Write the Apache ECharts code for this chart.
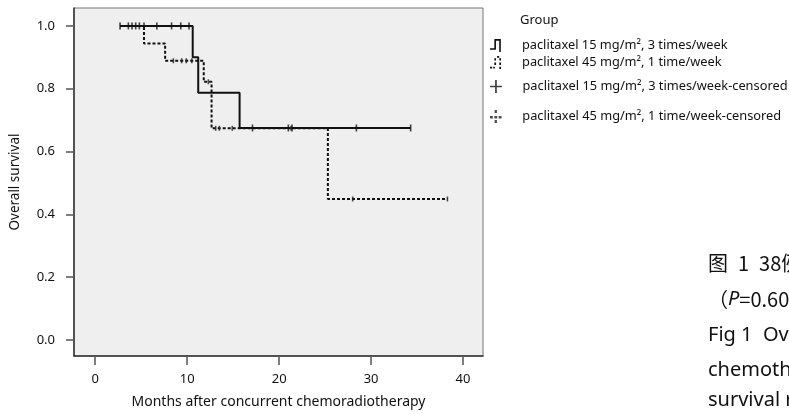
<!DOCTYPE html>
<html lang="zh">
<head>
    <meta charset="UTF-8">
    <title>Overall survival</title>
    <script src="https://cdn.jsdelivr.net/npm/echarts@6.0.0/dist/echarts.min.js"></script>
    <style>
        html, body { margin: 0; padding: 0; background: #fff; }
        #main { width: 789px; height: 414px; }
    </style>
</head>
<body>
<div id="main"></div>
<script>
    // 两组生存曲线：时间(月) 与 生存率
    const solidName = 'paclitaxel 15 mg/m², 3 times/week';
    const dashName = 'paclitaxel 45 mg/m², 1 time/week';
    const solidCensName = 'paclitaxel 15 mg/m², 3 times/week-censored';
    const dashCensName = 'paclitaxel 45 mg/m², 1 time/week-censored';

    const solidT = [2.7, 10.6, 11.2, 15.7, 34.3];
    const solidS = [1.0, 0.9, 0.7875, 0.675, 0.675];
    const dashT = [2.7, 5.3, 7.6, 11.8, 12.65, 25.3, 38.3];
    const dashS = [1.0, 0.944, 0.889, 0.822, 0.674, 0.449, 0.449];

    // 删失点
    const solidCensT = [2.7, 3.6, 4.0, 4.4, 4.8, 5.3, 6.7, 8.3, 9.3, 10.2, 17.1, 21.0, 21.4, 28.4, 34.3];
    const solidCensS = [1, 1, 1, 1, 1, 1, 1, 1, 1, 1, 0.675, 0.675, 0.675, 0.675, 0.675];
    const dashCensT = [8.5, 9.4, 9.9, 10.5, 12.3, 13.1, 13.5, 14.9, 21.3, 28.0, 38.3];
    const dashCensS = [0.889, 0.889, 0.889, 0.889, 0.822, 0.674, 0.674, 0.674, 0.674, 0.449, 0.449];

    const xTicks = [0, 10, 20, 30, 40];
    const yTicks = [0, 0.2, 0.4, 0.6, 0.8, 1.0];

    const font = 'Noto Sans';
    const ink = '#111';

    const pairs = (xs, ys) => xs.map((x, i) => [x, ys[i]]);

    // 图例图标
    const iconStep = 'path://M0,10 L5.5,10 L5.5,1.5 L8.5,1.5 L8.5,12 L10,12 L10,0 L4,0 L4,8.5 L0,8.5 Z';
    const iconStepDash = 'path://M0,10h2v1.6h-2z M3,10h1.5v1.6h-1.5z M4,6h1.6v2.2h-1.6z M4,2h1.6v2.2h-1.6z M6.5,0h2v1.6h-2z M8.6,2h1.6v2.2h-1.6z M8.6,6h1.6v2.2h-1.6z M8.6,10h1.6v2h-1.6z';
    const iconPlus = 'path://M0,5.2h11v1.6h-11z M4.7,0h1.6v12h-1.6z';
    const iconPlusDash = 'path://M1,5.2h2v1.6h-2z M4,5.2h2v1.6h-2z M7,5.2h2v1.6h-2z M4.2,1h1.6v2h-1.6z M4.2,8h1.6v2h-1.6z';

    const chart = echarts.init(document.getElementById('main'));

    function legendAt(name, icon, top) {
        return {
            data: [{ name: name, icon: icon }],
            left: 485,
            top: top,
            itemWidth: 13,
            itemHeight: 13,
            selectedMode: false,
            textStyle: { fontFamily: font, fontSize: 12.8, color: ink, padding: [0, 0, 0, 15] }
        };
    }

    const option = {
        animation: false,
        title: {
            text: 'Group',
            left: 520,
            top: 14,
            padding: 0,
            textStyle: { fontFamily: font, fontSize: 13, fontWeight: 'normal', color: ink }
        },
        legend: [
            legendAt(solidName, iconStep, 34),
            legendAt(dashName, iconStepDash, 51),
            legendAt(solidCensName, iconPlus, 75),
            legendAt(dashCensName, iconPlusDash, 105)
        ],
        grid: {
            left: 73, right: 306, top: 8, bottom: 58,
            show: true,
            backgroundColor: '#efefef',
            borderColor: '#777',
            borderWidth: 1
        },
        xAxis: {
            type: 'value',
            min: -2.31,
            max: 42.17,
            name: 'Months after concurrent chemoradiotherapy',
            nameLocation: 'middle',
            nameGap: 39,
            nameTextStyle: { fontFamily: font, fontSize: 14, color: ink },
            splitLine: { show: false },
            axisLine: { onZero: false, lineStyle: { color: '#333', width: 1.5 } },
            axisTick: { customValues: xTicks, length: 9, lineStyle: { color: '#555', width: 1.5 } },
            axisLabel: { customValues: xTicks, margin: 17, fontFamily: font, fontSize: 13, color: ink }
        },
        yAxis: {
            type: 'value',
            min: -0.051,
            max: 1.057,
            name: 'Overall survival',
            nameLocation: 'middle',
            nameGap: 52,
            nameTextStyle: { fontFamily: font, fontSize: 13.5, color: ink },
            splitLine: { show: false },
            axisLine: { show: true, onZero: false, lineStyle: { color: '#333', width: 1.5 } },
            axisTick: { show: true, customValues: yTicks, length: 8, lineStyle: { color: '#555', width: 1.5 } },
            axisLabel: {
                customValues: yTicks, margin: 19, fontFamily: font, fontSize: 13, color: ink,
                formatter: v => v.toFixed(1)
            }
        },
        series: [
            {
                name: solidName,
                type: 'line',
                step: 'end',
                showSymbol: false,
                symbol: 'none',
                data: pairs(solidT, solidS),
                itemStyle: { color: '#111' },
                lineStyle: { color: '#111', width: 2 },
                z: 3
            },
            {
                name: dashName,
                type: 'line',
                step: 'end',
                showSymbol: false,
                symbol: 'none',
                data: pairs(dashT, dashS),
                itemStyle: { color: '#111' },
                lineStyle: { color: '#111', width: 2, type: [3, 2] },
                z: 2
            },
            {
                name: solidCensName,
                type: 'scatter',
                symbol: 'rect',
                symbolSize: [1.6, 7],
                data: pairs(solidCensT, solidCensS),
                itemStyle: { color: '#111' },
                z: 4
            },
            {
                name: dashCensName,
                type: 'scatter',
                symbol: 'rect',
                symbolSize: [1.6, 5],
                data: pairs(dashCensT, dashCensS),
                itemStyle: { color: '#222' },
                z: 4
            }
        ],
        graphic: [
            { type: 'text', left: 708, top: 253, style: { text: '图\u20021\u200238例患者', fontFamily: 'Noto Sans CJK SC', fontSize: 20, fill: ink } },
            {
                type: 'text', left: 708, top: 289,
                style: {
                    text: '（{i|P}=0.605）',
                    fontFamily: 'Noto Sans CJK SC', fontSize: 20, fill: ink,
                    rich: { i: { fontStyle: 'italic', fontFamily: font, fontSize: 20, fill: ink } }
                }
            },
            { type: 'text', left: 708, top: 325, style: { text: 'Fig 1  Overall', fontFamily: font, fontSize: 20, fill: ink } },
            { type: 'text', left: 708, top: 360, style: { text: 'chemotherapy', fontFamily: font, fontSize: 20, fill: ink } },
            { type: 'text', left: 708, top: 390, style: { text: 'survival rate', fontFamily: font, fontSize: 20, fill: ink } }
        ]
    };

    chart.setOption(option);
</script>
</body>
</html>
